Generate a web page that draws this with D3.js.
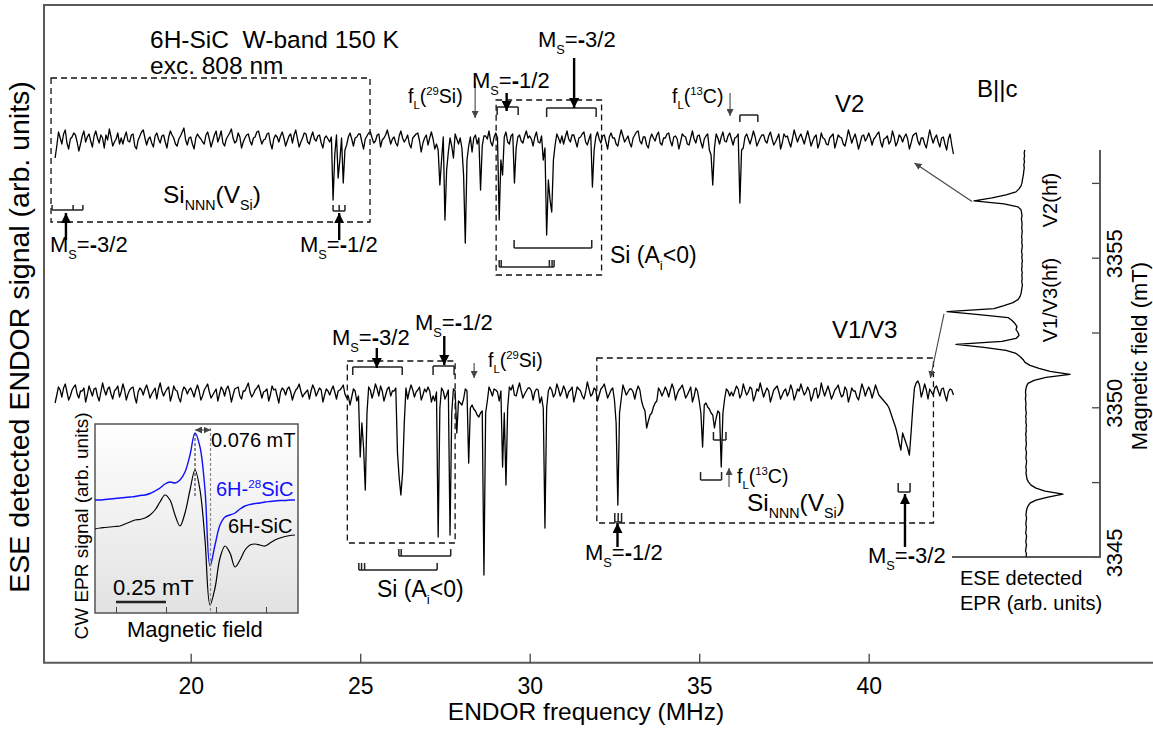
<!DOCTYPE html>
<meta charset="utf-8">
<style>
body { margin: 0; background: #fff; }
svg { display: block; font-family: Arial, "Liberation Sans", Helvetica, sans-serif; }
.trace { fill: none; stroke: #000; stroke-width: 1.3px; stroke-linejoin: round; }
.frame { fill: none; stroke: #5a5a5a; stroke-width: 2px; }
.dashbox { fill: none; stroke: #111; stroke-width: 1.3px; stroke-dasharray: 6,4; }
.bracket { fill: none; stroke: #222; stroke-width: 1.5px; }
.arrow { stroke: #000; stroke-width: 2.4px; }
.thin { stroke: #444; stroke-width: 1.1px; }
.axis line { stroke: #444; }
.axis path { display: none; }
</style>
<svg width="1153" height="739"></svg>
<script src="https://cdn.jsdelivr.net/npm/d3@7"></script>
<script>

// ENDOR spectra: one row per MHz starting at 16 MHz, 0.05 MHz apart (arb. units, baseline 0)
var freqStart = 16, freqStep = 0.05;

var v2Rows = [
  [-18, -6, 8, 2, -4, 6, 10, -3, -9, 1, 3, 7, 5, -2, -11, -4, 4, 9, -2, 3],
  [6, -1, -7, 4, 9, 2, -3, 5, 2, -8, 5, 0, 11, 3, -6, -2, 1, 7, -4, 2],
  [-4, 3, 8, -1, -2, 5, 6, -6, -9, 0, 4, 8, 10, 2, -5, 1, 3, -3, -7, 4],
  [7, 1, -3, 4, 5, -2, -8, 3, 9, 5, 2, -4, -6, 1, 4, 8, 12, 0, -5, 2],
  [3, -4, -9, 2, 6, 3, 1, -2, -4, 5, 8, 1, -7, -1, 5, 9, -2, 3, 9, -3],
  [-6, 1, 4, 7, 11, 2, -3, -1, 7, 3, -8, -2, 2, 5, 6, -1, -5, 2, 3, 8],
  [9, 2, -4, 0, 1, 6, 7, -3, -9, 1, 5, 3, -2, 4, 8, 2, -6, -1, 4, 6],
  [-3, 5, 10, 1, -7, -2, 2, 7, 6, -2, -4, 3, 8, 1, -1, 4, 5, -3, -8, 2],
  [4, 1, -2, 3, -60, -15, 5, -38, -20, 2, -43, -10, -5, 3, 7, 1, -6, 2, 3, 6],
  [6, -2, -9, 1, 4, 7, 8, 2, -3, -1, 5, 6, -7, 0, 2, 5, 10, 3, -4, 1],
  [3, -3, -6, 4, 9, 2, -2, 1, 5, -4, -8, 2, 4, 6, 7, -1, -12, -3, 2, 5],
  [-5, 2, 8, 1, -9, -4, -10, -45, -20, 3, -80, -30, -12, 2, -6, -18, 6, 1, -4, 2],
  [-8, -35, -103, -20, -6, 3, -12, 2, 5, -4, 2, -50, -6, 4, 4, 1, 9, -2, -6, 3],
  [7, 2, -80, -20, -35, 3, 8, -2, -4, 4, 6, -43, -8, 3, 5, -1, -3, 4, 9, 2],
  [4, 1, -6, 3, 8, -2, -3, 4, -20, -8, -95, -40, -60, -72, -20, -5, 6, 2, -3, 4],
  [-4, 3, 9, 1, -2, 5, 5, -1, -7, 2, 3, 6, 8, -2, -5, 1, 6, -47, -10, 3],
  [8, 1, -3, 4, 5, -2, -9, 3, 7, 2, 2, -4, -6, 3, 10, 4, -2, 1, 4, -3],
  [-7, 2, 5, 8, 9, -1, -4, 3, 3, -5, -8, 1, 6, 2, -1, 5, 8, -3, -5, 2],
  [2, 6, 7, -1, -6, 3, 4, 1, -9, -2, 6, 4, 3, -4, -5, 2, 9, 1, -3, 4],
  [5, -2, -8, 1, 4, 6, -10, -15, -45, -8, 6, 2, -4, 3, 8, -1, -2, 4, 7, 1],
  [-5, 2, 3, 6, -63, -10, -8, 3, 6, 1, -4, 2, 9, 3, -6, -2, 2, 5, 5, -1],
  [-3, 4, 8, 1, -5, -2, 2, 6, -9, -3, 6, 3, 4, -2, -7, 1, 10, 4, -2, 3],
  [6, 1, -4, 3, 9, 2, -6, -1, 3, 5, -8, -3, 7, 2, 1, -4, -5, 2, 4, 6],
  [-8, -2, 5, 3, 2, -4, -6, 1, 10, 4, -3, 2, 6, -1, -9, -3, 4, 5, -1, 2],
  [7, 2, -5, 1, 3, 6, 8, -2, -7, 1, 2, 4, -4, -1, 9, 3, -6, -2, 5, 3],
  [-2, 3, 6, 1, -9, -3, 4, 6, 7, -1, -5, 2, 2, -4, -8, 1, 10, 3, -3, 2],
  [5, -2, -7, 2, 3, -4, -10, 1, 6, -5, -14]
];

var v13Rows = [
  [-10, -2, 6, 3, -4, 5, 9, 1, -7, -3, 3, 6, 8, -1, -5, 2, 2, 5, -9, -2],
  [7, 2, -3, 4, 5, -3, -8, 1, 10, 3, -2, 4, 6, -1, -6, 2, 4, 7, -4, 1],
  [9, 3, -7, -1, 3, 5, 6, -4, -10, 1, 5, 3, -2, 4, 8, 2, -5, -1, 2, 5],
  [-6, 4, 10, 2, -3, 1, 4, 6, -8, -2, 7, 3, 2, -5, -9, 1, 6, 4, -1, 3],
  [5, 1, -4, 3, 8, 2, -7, -3, 3, 6, 9, 1, -5, -2, 1, 4, -8, -1, 6, 3],
  [-3, 4, 7, 1, -9, -2, 4, 5, 6, -3, -6, 2, 2, 6, 10, 1, -4, -1, 3, 5],
  [8, 2, -5, 1, 2, 4, -8, -2, 7, 3, 4, -3, -10, 1, 5, 3, -2, 4, 6, 1],
  [-7, -1, 3, 5, 9, 2, -4, -1, 1, 3, -6, 2, 8, 4, -3, 1, 5, 3, -9, -2],
  [4, 2, -2, 3, 7, 1, -6, 2, 3, 5, 8, -1, -5, -3, -12, -4, 4, 2, -8, -3],
  [-64, -30, -55, -97, -20, 6, 3, -5, 1, 9, 4, -3, 7, 2, -8, -2, 4, 6, -3, 2],
  [2, 5, -60, -85, -102, -80, -30, 5, -6, 2, 8, 3, -4, 1, 3, 6, -7, -2, 4, 1],
  [6, 2, -9, -3, -8, 1, -144, -15, 5, 2, -6, -2, 3, -142, -20, 4, 2, -40, -8, -10],
  [-12, -6, 4, 2, -70, -15, -12, -16, -18, -22, -24, -20, -18, -182, -20, -8, 6, 2, -3, 4],
  [3, 1, -8, 2, -74, -20, -92, -15, 6, 3, 8, -2, -3, 4, 10, 2, -5, -1, 2, 5],
  [5, 2, -7, 1, 4, 3, -10, -4, -15, -135, -15, 2, 6, 3, -4, -1, 9, 4, -3, 1],
  [7, 3, -5, 1, 3, 6, -9, -2, 6, 4, 2, -3, -6, 1, 11, 4, -3, -1, 5, 3],
  [-8, -2, 4, 6, 9, 2, -5, -1, 3, 5, -7, -30, -112, -20, -6, 8, 3, -2, 1, 4],
  [4, 1, -6, 2, 7, 3, -8, -14, -18, -35, -28, -22, -20, -14, -10, -8, 5, 2, -3, 1],
  [6, 2, -4, 3, 9, 4, -7, -1, 3, 5, 8, 2, -5, -2, 2, 6, -9, -3, 5, 2],
  [-8, -20, -54, -12, -10, -14, -16, -20, -22, -35, -25, -18, -20, -74, -20, -6, 4, 2, -3, 1],
  [-3, 2, 7, 4, -5, -1, 9, 3, -2, 1, 6, 4, -8, -3, 4, 2, 10, 3, -4, 1],
  [5, 2, -9, -3, 3, 5, 7, 1, -6, -2, 2, 4, -3, 1, 8, 3, -7, -2, 4, 2],
  [9, 3, -2, 1, 6, 2, -8, -3, 4, 5, -5, -1, 10, 3, -3, 2, 7, 1, -6, -2],
  [3, 5, 8, 1, -4, -2, 6, 3, -9, -3, 5, 2, 2, -4, -7, 1, 9, 4, -3, 2],
  [6, 2, -5, 1, 8, 3, -2, -4, -6, -8, -10, -12, -15, -20, -25, -30, -35, -42, -50, -57],
  [-40, -45, -50, -55, -62, -40, -15, 5, 10, 12, 8, -4, 2, 9, 3, -6, 4, 1, -2, 5],
  [7, 2, -3, 4, 5, -2, -8, 1, 4, 3, -2]
];

// ESE detected EPR, every 0.1 mT from 3345.0 mT (positive = to the left)
var fieldStart = 3345.0, fieldStep = 0.1;
var eprSignal = [
  -2, -2.5, -1.5, -2, -2.5, -1.8, -2.2, -2.6, -1.7, -2.1,
  -2.4, -1.8, -2.2, -2.6, -2, -2.3, -2.8, -4, -6, -12,
  -24, -39, -21, -12, -7, -4.5, -3, -2.5, -2, -2.4,
  -1.8, -2.3, -2.6, -1.9, -2.2, -2.5, -1.7, -2.1, -2.4, -1.9,
  -2.2, -1.6, -2.3, -2, -2.5, -1.8, -2.1, -1.7, -2.3, -1.9,
  -1.6, -2, -1.7, -1.4, -1.9, -1.5, -1.8, -2.5, -4, -10,
  -22, -46, -26, -15, -6, -1, 1, 4, 8, 18,
  40, 68, 22, 8, 5, 6, 8, 7, 9, 12,
  16, 45, 77, 30, 20, 11, 6, 4, 3, 2.5,
  2, 1.6, 2.3, 1.8, 2.2, 1.7, 2.4, 1.9, 2.1, 1.6,
  2.2, 1.8, 2.5, 2, 1.7, 2.3, 1.9, 2.4, 2, 1.8,
  2.3, 1.9, 2.1, 2.6, 2, 2.4, 3, 6, 20, 50,
  32, 18, 8, 5, 3, 2, 1.6, 1, 0.5, 0.2,
  -0.3, 0.2, -0.5, 0, -0.6, -0.2, -0.8
];

// CW EPR inset, every 0.025 mT (relative field)
var insetStart = -0.105, insetStep = 0.025;
var inset28SiC = [20, 20, 20.5, 21, 21.5, 22, 22.5, 23, 23.5, 24.5, 25, 26.5, 29, 32, 36, 38, 37, 40, 48, 65,
  87, 73, 30, -46, -25, -5, 3, 5, 7, 11, 14, 15.5, 16.5, 17, 18, 18.5, 19, 19.5, 19.5, 20, 20];
var insetNatSiC = [-9, -8, -7.5, -7, -6.5, -6, -4, -2, 0, 0.5, 2, 5, 10, 18, 25, 20, 5, -6, 7, 30,
  50, 30, -20, -85, -68, -38, -26, -33, -47, -40, -30, -25, -24, -25, -26, -23, -20, -18, -16.5, -15.5, -15];

var freqTicks = [20, 25, 30, 35, 40];
var fieldTicks = [3345, 3350, 3355];

var svg = d3.select("svg");
var font = 22;

var x = d3.scaleLinear().domain([20, 35]).range([190.7, 699.2]);
var yV2 = d3.scaleLinear().domain([0, -100]).range([140, 240]);
var yV13 = d3.scaleLinear().domain([0, -100]).range([393, 493]);
var yField = d3.scaleLinear().domain([3345, 3355]).range([556.9, 257.7]);
var xEpr = d3.scaleLinear().domain([0, 80]).range([1024, 944]);
var xIn = d3.scaleLinear().domain([-0.105, 0.91]).range([95, 298]);
var yIn = d3.scaleLinear().domain([0, 100]).range([520, 420]);

function toPoints(rows) {
  var pts = [];
  rows.forEach(function(row, r) {
    row.forEach(function(v, j) { pts.push([freqStart + r + j * freqStep, v]); });
  });
  return pts;
}

var defs = svg.append("defs");
function marker(id, size, color) {
  defs.append("marker").attr("id", id)
    .attr("viewBox", "0 0 10 10").attr("refX", 10).attr("refY", 5)
    .attr("markerUnits", "userSpaceOnUse")
    .attr("markerWidth", size).attr("markerHeight", size)
    .attr("orient", "auto-start-reverse")
    .append("path").attr("d", "M0,0L10,5L0,10z").attr("fill", color);
}
marker("head", 10, "#000");
marker("thinhead", 7, "#444");
var grad = defs.append("linearGradient").attr("id", "insetFill")
  .attr("x1", 0).attr("y1", 0).attr("x2", 0).attr("y2", 1);
grad.append("stop").attr("offset", "0%").attr("stop-color", "#ffffff");
grad.append("stop").attr("offset", "100%").attr("stop-color", "#e2e2e2");

// frame
svg.append("path").attr("class", "frame")
  .attr("d", "M1153,5H44V662.7H1153");

// bottom axis
var axisY = 662.7;
var gx = svg.append("g").attr("class", "axis").attr("transform", "translate(0," + axisY + ")");
gx.call(d3.axisBottom(x).tickValues(d3.range(16, 44.6, 0.5)).tickSize(-4).tickFormat(""));
gx.call(d3.axisBottom(x).tickValues(freqTicks).tickSize(-9).tickPadding(15).tickFormat(d3.format("d")));
gx.selectAll("text").attr("font-size", 23).attr("fill", "#000").attr("font-family", null);
gx.selectAll("line").attr("stroke-width", 1.3);

svg.append("text").attr("x", 586).attr("y", 720).attr("text-anchor", "middle")
  .attr("font-size", 24.5).text("ENDOR frequency (MHz)");
svg.append("text").attr("transform", "translate(29,337) rotate(-90)")
  .attr("text-anchor", "middle").attr("font-size", 28.5)
  .text("ESE detected ENDOR signal (arb. units)");

// traces
var lineV2 = d3.line().x(function(d) { return x(d[0]); }).y(function(d) { return yV2(d[1]); });
var lineV13 = d3.line().x(function(d) { return x(d[0]); }).y(function(d) { return yV13(d[1]); });
svg.append("path").attr("class", "trace").attr("d", lineV2(toPoints(v2Rows)));
svg.append("path").attr("class", "trace").attr("d", lineV13(toPoints(v13Rows)));

// rich text helper
function rich(g, px, py, parts, size, color) {
  var t = g.append("text").attr("x", px).attr("y", py).attr("font-size", size)
    .style("white-space", "pre").attr("fill", color || "#000");
  var shift = 0;
  parts.forEach(function(p) {
    var kind = p[1] || "";
    var target = kind === "sub" ? size * 0.3 : kind === "sup" ? -size * 0.4 : 0;
    var s = t.append("tspan").attr("dy", target - shift).text(p[0]);
    if (kind === "sub" || kind === "sup") s.attr("font-size", size * 0.58);
    if (kind === "b") s.attr("font-weight", "bold");
    shift = target;
  });
  return t;
}
function ms(frac) { return [["M"], ["S", "sub"], ["="], ["-", "b"], [frac]]; }
var siNNN = [["Si"], ["NNN", "sub"], ["(V"], ["Si", "sub"], [")"]];
var siA = [["Si (A"], ["i", "sub"], ["<0)"]];
function fL(iso, el) { return [["f"], ["L", "sub"], ["("], [iso, "sup"], [el + ")"]]; }

// dashed boxes
function dashBox(f0, f1, y0, y1) {
  svg.append("rect").attr("class", "dashbox")
    .attr("x", x(f0)).attr("y", y0).attr("width", x(f1) - x(f0)).attr("height", y1 - y0);
}
dashBox(15.88, 25.29, 78, 222);
dashBox(29.01, 32.12, 100, 275);
dashBox(24.62, 27.80, 361, 543);
dashBox(31.98, 41.91, 358, 523);

// brackets: horizontal bar at y, ticks of length len (negative = up)
function bracket(fs, y, len) {
  var p = "M" + x(d3.min(fs)) + "," + y + "H" + x(d3.max(fs));
  fs.forEach(function(f) { p += "M" + x(f) + "," + y + "v" + len; });
  svg.append("path").attr("class", "bracket").attr("d", p);
}
bracket([15.91, 16.53, 16.82], 210, -5);
bracket([24.20, 24.38, 24.55], 211, -6);
bracket([29.04, 29.66], 107, 8);
bracket([30.50, 31.96], 108, 9);
bracket([29.54, 31.83], 248, -8);
bracket([29.10, 29.16, 30.58, 30.66, 30.72], 267, -7);
bracket([36.20, 36.73], 115, 7);
bracket([24.78, 26.24], 367, 8);
bracket([27.15, 27.77], 366, 9);
bracket([26.14, 26.21, 27.67], 556, -7);
bracket([24.96, 25.04, 25.13, 27.27], 570, -7);
bracket([32.51, 32.61, 32.71], 522, -9);
bracket([35.42, 35.79], 440, -8);
bracket([35.04, 35.66], 480, -8);
bracket([40.87, 41.22], 492, -9);

// arrows
function arrow(f, y0, y1, thin) {
  svg.append("line").attr("class", thin ? "thin" : "arrow")
    .attr("x1", x(f)).attr("x2", x(f)).attr("y1", y0).attr("y2", y1)
    .attr("marker-end", thin ? "url(#thinhead)" : "url(#head)");
}
arrow(16.32, 240, 213);
arrow(24.38, 240, 213);
arrow(29.32, 93, 111);
arrow(31.31, 58, 108);
arrow(25.49, 348, 368);
arrow(27.48, 336, 365);
arrow(32.59, 547, 523);
arrow(41.07, 547, 494);
arrow(28.39, 83, 118, true);
arrow(35.91, 93, 116, true);
arrow(28.36, 363, 378, true);
arrow(35.88, 487, 468, true);

// labels
rich(svg, 150, 48, [["6H-SiC  W-band 150 K"]], 24.5);
rich(svg, 150, 74, [["exc. 808 nm"]], 24.5);
rich(svg, 163, 203, siNNN, 24.5);
rich(svg, 50, 252, ms("3/2"), font);
rich(svg, 300, 252, ms("1/2"), font);
rich(svg, 408, 103, fL("29", "Si"), 19.5);
rich(svg, 472, 88, ms("1/2"), font);
rich(svg, 538, 47, ms("3/2"), font);
rich(svg, 610, 263, siA, 23);
rich(svg, 672, 103, fL("13", "C"), 19.5);
rich(svg, 835, 112, [["V2"]], 24);
rich(svg, 977, 97, [["B||c"]], 24);
rich(svg, 832, 338, [["V1/V3"]], 24);
rich(svg, 332, 345, ms("3/2"), font);
rich(svg, 415, 330, ms("1/2"), font);
rich(svg, 488, 367, fL("29", "Si"), 19.5);
rich(svg, 377, 597, siA, 23);
rich(svg, 585, 560, ms("1/2"), font);
rich(svg, 737, 483, fL("13", "C"), 19.5);
rich(svg, 747, 511, siNNN, 24.5);
rich(svg, 868, 563, ms("3/2"), font);

// ESE detected EPR panel
var yAxisX = 1100;
var gy = svg.append("g").attr("class", "axis").attr("transform", "translate(" + yAxisX + ",0)");
gy.call(d3.axisLeft(yField).tickValues(d3.range(3345, 3358.6, 0.5)).tickSize(4).tickFormat(""));
gy.call(d3.axisLeft(yField).tickValues(d3.range(3345, 3358.6, 2.5)).tickSize(8).tickFormat(""));
gy.selectAll("line").attr("stroke-width", 1.3);
svg.append("path").attr("class", "frame").attr("stroke-width", 1.5)
  .attr("d", "M" + yAxisX + "," + yField(3358.6) + "V" + yField(3345) + "H952");
fieldTicks.forEach(function(t) {
  svg.append("text").attr("transform", "translate(1122," + (yField(t) - 4) + ") rotate(-90)")
    .attr("text-anchor", "middle").attr("font-size", 22).text(t);
});
svg.append("text").attr("transform", "translate(1147,356) rotate(-90)")
  .attr("text-anchor", "middle").attr("font-size", 22).text("Magnetic field (mT)");
rich(svg, 960, 585, [["ESE detected"]], 20);
rich(svg, 960, 610, [["EPR (arb. units)"]], 20);
svg.append("text").attr("transform", "translate(1057,200) rotate(-90)")
  .attr("text-anchor", "middle").attr("font-size", 20).text("V2(hf)");
svg.append("text").attr("transform", "translate(1057,300) rotate(-90)")
  .attr("text-anchor", "middle").attr("font-size", 20).text("V1/V3(hf)");

var lineEpr = d3.line()
  .x(function(d) { return xEpr(d); })
  .y(function(d, i) { return yField(fieldStart + i * fieldStep); });
svg.append("path").attr("class", "trace").attr("stroke-width", 1.1).attr("d", lineEpr(eprSignal));

// arrows from EPR lines to ENDOR spectra
svg.append("line").attr("class", "thin")
  .attr("x1", xEpr(52)).attr("y1", yField(3356.88)).attr("x2", x(41.35)).attr("y2", yV2(-23))
  .attr("marker-end", "url(#thinhead)");
svg.append("line").attr("class", "thin")
  .attr("x1", xEpr(80)).attr("y1", yField(3353.12)).attr("x2", x(41.82)).attr("y2", yV13(15))
  .attr("marker-end", "url(#thinhead)");

// CW EPR inset
var inset = svg.append("g");
inset.append("rect").attr("x", 95).attr("y", 424).attr("width", 203).attr("height", 189)
  .attr("fill", "url(#insetFill)").attr("stroke", "#555").attr("stroke-width", 1.5);
var gi = inset.append("g").attr("class", "axis").attr("transform", "translate(0,613)");
gi.call(d3.axisBottom(xIn).tickValues(d3.range(-0.1, 0.91, 0.05)).tickSize(-3).tickFormat(""));
gi.call(d3.axisBottom(xIn).tickValues([0, 0.25, 0.5, 0.75]).tickSize(-6).tickFormat(""));
var lineIn = d3.line().curve(d3.curveCatmullRom.alpha(0.5))
  .x(function(d, i) { return xIn(insetStart + i * insetStep); })
  .y(function(d) { return yIn(d); });
inset.append("path").attr("fill", "none").attr("stroke", "#000").attr("stroke-width", 1.2)
  .attr("d", lineIn(insetNatSiC));
inset.append("path").attr("fill", "none").attr("stroke", "#1010ff").attr("stroke-width", 1.4)
  .attr("d", lineIn(inset28SiC));
inset.append("line").attr("x1", xIn(0.395)).attr("x2", xIn(0.395)).attr("y1", 433).attr("y2", 497)
  .attr("stroke", "#222").attr("stroke-width", 1).attr("stroke-dasharray", "3,2");
inset.append("line").attr("x1", xIn(0.4725)).attr("x2", xIn(0.4725)).attr("y1", 428).attr("y2", 613)
  .attr("stroke", "#888").attr("stroke-width", 1.2).attr("stroke-dasharray", "3,2");
inset.append("line").attr("x1", xIn(0.395)).attr("x2", xIn(0.4725)).attr("y1", 430).attr("y2", 430)
  .attr("stroke", "#333").attr("stroke-width", 1)
  .attr("marker-start", "url(#thinhead)").attr("marker-end", "url(#thinhead)");
inset.append("line").attr("x1", xIn(0)).attr("x2", xIn(0.25)).attr("y1", 602).attr("y2", 602)
  .attr("stroke", "#222").attr("stroke-width", 2.5);
rich(inset, 113, 595, [["0.25 mT"]], 22);
rich(inset, 211, 447, [["0.076 mT"]], 20);
rich(inset, 216, 496, [["6H-"], ["28", "sup"], ["SiC"]], 20, "#1010ff");
rich(inset, 228, 533, [["6H-SiC"]], 20);
rich(inset, 127, 637, [["Magnetic field"]], 22);
inset.append("text").attr("transform", "translate(88,526) rotate(-90)")
  .attr("text-anchor", "middle").attr("font-size", 19).text("CW EPR signal (arb. units)");

</script>
